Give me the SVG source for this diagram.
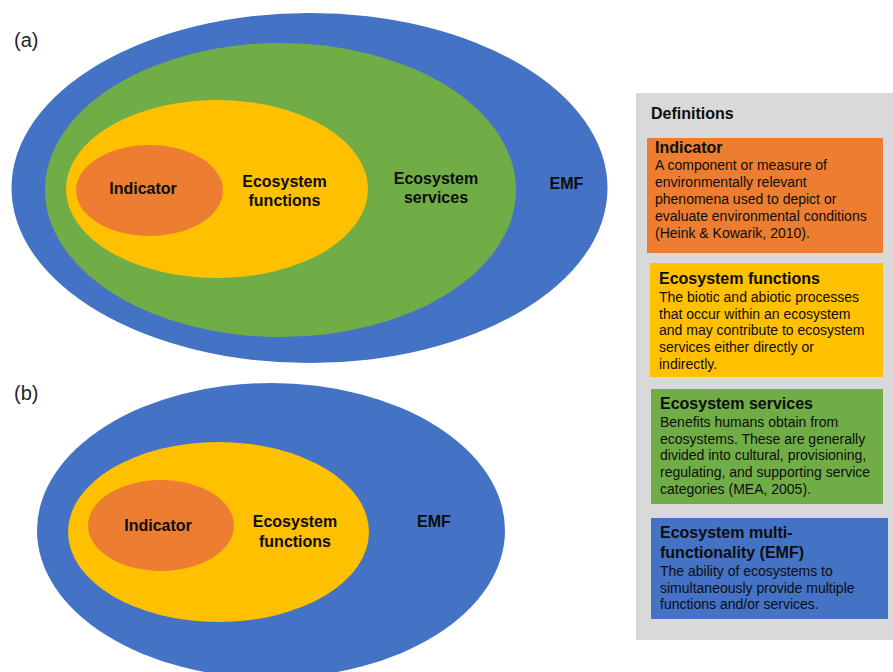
<svg xmlns="http://www.w3.org/2000/svg" width="893" height="672" viewBox="0 0 893 672">
<style>
.emf{fill:#4472c4}
.es{fill:#70ad47}
.ef{fill:#ffc000}
.ind{fill:#ed7d31}
.lbl{font-family:"Liberation Sans",Arial,sans-serif;font-weight:bold;font-size:16px;fill:#0d0d0d;text-anchor:middle}
.tag{font-family:"Liberation Sans",Arial,sans-serif;font-size:20px;fill:#262626}
.dtitle{font-family:"Liberation Sans",Arial,sans-serif;font-weight:bold;font-size:16px;fill:#0d0d0d}
.dbody{font-family:"Liberation Sans",Arial,sans-serif;font-size:14px;fill:#0d0d0d}
</style>
<rect width="893" height="672" fill="#ffffff"/>
<g id="panel-a">
  <text class="tag" x="14" y="47">(a)</text>
  <g id="a-emf"><ellipse class="emf" cx="309.5" cy="188" rx="298" ry="175"/><text class="lbl" x="566.5" y="189">EMF</text></g>
  <g id="a-services"><ellipse class="es" cx="280.5" cy="190" rx="235.5" ry="147"/><text class="lbl" x="436" y="184">Ecosystem</text><text class="lbl" x="436" y="203">services</text></g>
  <g id="a-functions"><ellipse class="ef" cx="217" cy="189" rx="151" ry="89"/><text class="lbl" x="284.5" y="187">Ecosystem</text><text class="lbl" x="284.5" y="206">functions</text></g>
  <g id="a-indicator"><ellipse class="ind" cx="149.5" cy="190.5" rx="73.5" ry="45.5"/><text class="lbl" x="143" y="194">Indicator</text></g>
</g>
<g id="panel-b">
  <text class="tag" x="14" y="400">(b)</text>
  <g id="b-emf"><ellipse class="emf" cx="271" cy="530.5" rx="234" ry="147.5"/><text class="lbl" x="434" y="527">EMF</text></g>
  <g id="b-functions"><ellipse class="ef" cx="218.5" cy="532" rx="150.5" ry="90"/><text class="lbl" x="295" y="527">Ecosystem</text><text class="lbl" x="295" y="547">functions</text></g>
  <g id="b-indicator"><ellipse class="ind" cx="161" cy="525.5" rx="73" ry="45.5"/><text class="lbl" x="158" y="531">Indicator</text></g>
</g>
<g id="connectors"></g>
<g id="definitions">
  <rect x="636" y="93" width="257" height="547" fill="#d9d9d9"/>
  <text class="dtitle" x="651" y="119">Definitions</text>
  <g id="def-indicator">
    <rect x="647" y="138" width="236" height="115" class="ind"/>
    <text class="dtitle" x="655" y="153">Indicator</text>
    <text class="dbody" x="655" y="170">A component or measure of</text>
    <text class="dbody" x="655" y="187">environmentally relevant</text>
    <text class="dbody" x="655" y="203.5">phenomena used to depict or</text>
    <text class="dbody" x="655" y="221">evaluate environmental conditions</text>
    <text class="dbody" x="655" y="238">(Heink &amp; Kowarik, 2010).</text>
  </g>
  <g id="def-functions">
    <rect x="650" y="263" width="233" height="114" class="ef"/>
    <text class="dtitle" x="659" y="284">Ecosystem functions</text>
    <text class="dbody" x="659" y="302">The biotic and abiotic processes</text>
    <text class="dbody" x="659" y="318.5">that occur within an ecosystem</text>
    <text class="dbody" x="659" y="335">and may contribute to ecosystem</text>
    <text class="dbody" x="659" y="352">services either directly or</text>
    <text class="dbody" x="659" y="368.5">indirectly.</text>
  </g>
  <g id="def-services">
    <rect x="651" y="389" width="232" height="115" class="es"/>
    <text class="dtitle" x="660" y="409">Ecosystem services</text>
    <text class="dbody" x="660" y="427">Benefits humans obtain from</text>
    <text class="dbody" x="660" y="443.5">ecosystems. These are generally</text>
    <text class="dbody" x="660" y="460">divided into cultural, provisioning,</text>
    <text class="dbody" x="660" y="477">regulating, and supporting service</text>
    <text class="dbody" x="660" y="493.5">categories (MEA, 2005).</text>
  </g>
  <g id="def-emf">
    <rect x="651" y="518" width="237" height="101" class="emf"/>
    <text class="dtitle" x="660" y="538">Ecosystem multi-</text>
    <text class="dtitle" x="660" y="558">functionality (EMF)</text>
    <text class="dbody" x="660" y="576">The ability of ecosystems to</text>
    <text class="dbody" x="660" y="593">simultaneously provide multiple</text>
    <text class="dbody" x="660" y="609">functions and/or services.</text>
  </g>
</g>
</svg>
